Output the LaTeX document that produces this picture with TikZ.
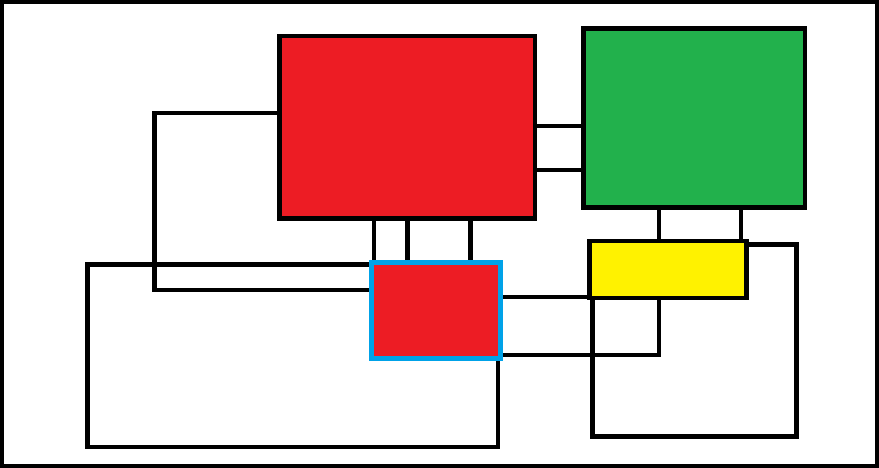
\documentclass[tikz,border=0pt]{standalone}
\definecolor{paintred}{RGB}{237,28,36}
\definecolor{paintgreen}{RGB}{34,177,76}
\definecolor{paintyellow}{RGB}{255,242,0}
\definecolor{paintblue}{RGB}{0,162,232}
\begin{document}
\begin{tikzpicture}[x=1pt,y=-1pt,line width=4.5pt]
    \tikzstyle{block}=[draw=black,rectangle,inner sep=0pt]
    \useasboundingbox (0,0) rectangle (879,468);
    \draw [black,line width=4pt] (2,2) rectangle (877,466);
    \draw [black] (87.5,264.3) rectangle (498,447);
    \draw [black] (592.5,244.5) rectangle (796.3,436.7);
    \node [block,fill=paintred,minimum width=255.5,minimum height=182.5] (big) at (407.25,127.25) {};
    \node [block,fill=paintgreen,minimum width=221.5,minimum height=179] (green) at (694.25,118) {};
    \node [block,fill=paintyellow,minimum width=157,minimum height=57] (yellow) at (668,269.5) {};
    \node [block,draw=paintblue,line width=5pt,fill=paintred,minimum width=129,minimum height=96] (small) at (436,310.5) {};
    \coordinate (loopT) at (154.5,113);
    \coordinate (loopB) at (154.5,290);
    \draw [black] (big.west |- loopT) -- (loopT) -- (loopB) -- (loopB -| small.west);
    \draw [black] (big.east |- 0,126) -- (green.west |- 0,126);
    \draw [black] (big.east |- 0,170) -- (green.west |- 0,170);
    \draw [black] (374,0 |- big.south) -- (374,0 |- small.north);
    \draw [black] (407.5,0 |- big.south) -- (407.5,0 |- small.north);
    \draw [black] (470.5,0 |- big.south) -- (470.5,0 |- small.north);
    \draw [black] (659,0 |- green.south) -- (659,0 |- yellow.north);
    \draw [black] (741,0 |- green.south) -- (741,0 |- yellow.north);
    \draw [black] (small.east |- 0,297) -- (yellow.west |- 0,297);
    \draw [black] (small.east |- 0,355) -- (659,355) -- (659,0 |- yellow.south);
\end{tikzpicture}
\end{document}
